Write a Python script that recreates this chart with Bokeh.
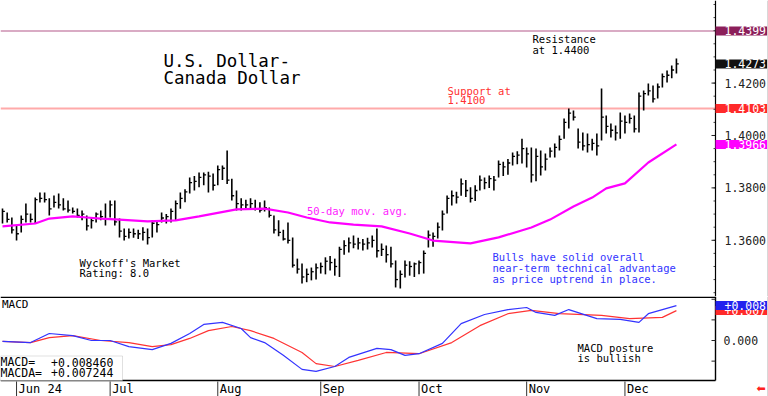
from bokeh.plotting import figure
from bokeh.models import Range1d, Label, Span, BoxAnnotation, ColumnDataSource
from bokeh.layouts import column
from bokeh.embed import file_html
from bokeh.resources import INLINE

# ---------------- data ----------------
highs = [1.3721, 1.3706, 1.3687, 1.3656, 1.3695, 1.3740, 1.3702, 1.3763, 1.3782, 1.3782,
         1.3760, 1.3771, 1.3779, 1.3760, 1.3752, 1.3725, 1.3721, 1.3714, 1.3695, 1.3687,
         1.3706, 1.3714, 1.3740, 1.3752, 1.3752, 1.3683, 1.3645, 1.3645, 1.3645, 1.3640,
         1.3650, 1.3645, 1.3676, 1.3676, 1.3706, 1.3700, 1.3721, 1.3752, 1.3782, 1.3795,
         1.3840, 1.3845, 1.3859, 1.3859, 1.3862, 1.3855, 1.3885, 1.3885, 1.3943, 1.3835,
         1.3790, 1.3760, 1.3755, 1.3760, 1.3755, 1.3745, 1.3752, 1.3725, 1.3695, 1.3676,
         1.3640, 1.3668, 1.3611, 1.3530, 1.3511, 1.3492, 1.3496, 1.3511, 1.3515, 1.3535,
         1.3540, 1.3530, 1.3575, 1.3600, 1.3611, 1.3618, 1.3610, 1.3605, 1.3610, 1.3618,
         1.3645, 1.3588, 1.3580, 1.3575, 1.3523, 1.3485, 1.3523, 1.3520, 1.3515, 1.3523,
         1.3561, 1.3637, 1.3630, 1.3668, 1.3714, 1.3771, 1.3790, 1.3785, 1.3836, 1.3830,
         1.3802, 1.3810, 1.3847, 1.3840, 1.3847, 1.3845, 1.3905, 1.3900, 1.3910, 1.3935,
         1.3940, 1.3988, 1.3954, 1.3954, 1.3950, 1.3943, 1.3931, 1.3954, 1.3969, 1.4000,
         1.4065, 1.4103, 1.4095, 1.4027, 1.4011, 1.4008, 1.3988, 1.4008, 1.4179, 1.4076,
         1.4046, 1.4038, 1.4088, 1.4076, 1.4084, 1.4076, 1.4164, 1.4172, 1.4198, 1.4191,
         1.4198, 1.4237, 1.4248, 1.4267, 1.4294]
lows = [1.3664, 1.3668, 1.3626, 1.3599, 1.3630, 1.3668, 1.3668, 1.3664, 1.3744, 1.3744,
        1.3695, 1.3725, 1.3721, 1.3714, 1.3706, 1.3702, 1.3687, 1.3676, 1.3637, 1.3645,
        1.3668, 1.3676, 1.3656, 1.3687, 1.3656, 1.3611, 1.3599, 1.3607, 1.3610, 1.3605,
        1.3599, 1.3584, 1.3611, 1.3630, 1.3668, 1.3664, 1.3668, 1.3676, 1.3720, 1.3745,
        1.3779, 1.3790, 1.3802, 1.3810, 1.3782, 1.3790, 1.3810, 1.3830, 1.3815, 1.3752,
        1.3714, 1.3714, 1.3720, 1.3718, 1.3714, 1.3706, 1.3710, 1.3687, 1.3626, 1.3615,
        1.3599, 1.3588, 1.3496, 1.3473, 1.3435, 1.3440, 1.3447, 1.3450, 1.3473, 1.3470,
        1.3485, 1.3465, 1.3460, 1.3545, 1.3553, 1.3570, 1.3565, 1.3561, 1.3565, 1.3572,
        1.3534, 1.3540, 1.3515, 1.3496, 1.3420, 1.3416, 1.3458, 1.3465, 1.3460, 1.3470,
        1.3473, 1.3572, 1.3575, 1.3607, 1.3637, 1.3702, 1.3733, 1.3740, 1.3770, 1.3765,
        1.3744, 1.3750, 1.3790, 1.3795, 1.3800, 1.3790, 1.3840, 1.3845, 1.3850, 1.3885,
        1.3890, 1.3893, 1.3878, 1.3821, 1.3825, 1.3847, 1.3866, 1.3916, 1.3916, 1.3943,
        1.3988, 1.4027, 1.4057, 1.3950, 1.3943, 1.3935, 1.3943, 1.3924, 1.3981, 1.4008,
        1.3992, 1.3981, 1.3988, 1.4008, 1.4046, 1.4011, 1.4011, 1.4095, 1.4153, 1.4126,
        1.4141, 1.4183, 1.4202, 1.4218, 1.4237]
closes = [1.3710, 1.3680, 1.3640, 1.3625, 1.3680, 1.3700, 1.3680, 1.3755, 1.3760, 1.3755,
          1.3720, 1.3745, 1.3735, 1.3720, 1.3715, 1.3710, 1.3695, 1.3700, 1.3655, 1.3675,
          1.3700, 1.3690, 1.3680, 1.3735, 1.3670, 1.3635, 1.3615, 1.3630, 1.3625, 1.3625,
          1.3630, 1.3610, 1.3665, 1.3660, 1.3685, 1.3690, 1.3710, 1.3740, 1.3760, 1.3785,
          1.3820, 1.3825, 1.3840, 1.3850, 1.3845, 1.3810, 1.3870, 1.3875, 1.3830, 1.3770,
          1.3740, 1.3735, 1.3735, 1.3740, 1.3720, 1.3715, 1.3725, 1.3695, 1.3640, 1.3630,
          1.3605, 1.3600, 1.3505, 1.3490, 1.3460, 1.3470, 1.3480, 1.3495, 1.3500, 1.3520,
          1.3515, 1.3500, 1.3565, 1.3580, 1.3590, 1.3585, 1.3590, 1.3585, 1.3590, 1.3600,
          1.3560, 1.3565, 1.3545, 1.3510, 1.3450, 1.3470, 1.3505, 1.3500, 1.3510, 1.3515,
          1.3550, 1.3620, 1.3615, 1.3650, 1.3700, 1.3760, 1.3770, 1.3765, 1.3815, 1.3790,
          1.3760, 1.3790, 1.3830, 1.3820, 1.3835, 1.3830, 1.3890, 1.3880, 1.3895, 1.3920,
          1.3925, 1.3950, 1.3930, 1.3850, 1.3920, 1.3880, 1.3910, 1.3940, 1.3955, 1.3985,
          1.4050, 1.4085, 1.4070, 1.3975, 1.3960, 1.3965, 1.3970, 1.3960, 1.4070, 1.4035,
          1.4020, 1.4010, 1.4055, 1.4050, 1.4065, 1.4025, 1.4150, 1.4160, 1.4170, 1.4140,
          1.4185, 1.4225, 1.4230, 1.4250, 1.4273]

ma_day = [0, 7, 10, 15, 18, 21, 25, 31, 37, 42, 50, 56, 61, 65, 70, 75, 81, 87, 92, 100,
          106, 113, 117, 122, 126, 129, 133, 138, 144]
ma_val = [1.3653, 1.3664, 1.3683, 1.3691, 1.3687, 1.3683, 1.3679, 1.3672, 1.3676, 1.3691,
          1.3718, 1.3721, 1.3706, 1.3687, 1.3668, 1.3660, 1.3653, 1.3626, 1.3599, 1.3588,
          1.3611, 1.3649, 1.3679, 1.3729, 1.3763, 1.3798, 1.3817, 1.3897, 1.3966]

macd_day = [0, 6, 10, 15, 19, 23, 27, 32, 36, 40, 43, 47, 51, 53, 56, 60, 64, 67, 71, 74,
            80, 83, 86, 89, 94, 98, 103, 108, 112, 114, 118, 121, 127, 132, 136, 138, 144]
macd_val = [-0.0002, -0.0005, 0.0017, 0.0012, 0.0000, 0.0000, -0.0015, -0.0022, -0.0007,
            0.0017, 0.0039, 0.0044, 0.0029, 0.0007, -0.0005, -0.0036, -0.0070, -0.0075,
            -0.0063, -0.0041, -0.0019, -0.0022, -0.0036, -0.0032, -0.0007, 0.0041, 0.0063,
            0.0075, 0.0080, 0.0068, 0.0061, 0.0075, 0.0053, 0.0051, 0.0044, 0.0065, 0.008460]
sig_day = [0, 6, 10, 15, 21, 27, 32, 36, 40, 44, 49, 53, 58, 64, 67, 71, 76, 82, 89, 96,
           102, 108, 113, 119, 128, 134, 141, 144]
sig_val = [-0.0002, -0.0005, 0.0007, 0.0012, 0.0000, -0.0005, -0.0015, -0.0010, 0.0005,
           0.0024, 0.0034, 0.0024, 0.0005, -0.0029, -0.0056, -0.0063, -0.0048, -0.0029,
           -0.0032, -0.0005, 0.0036, 0.0065, 0.0073, 0.0065, 0.0061, 0.0053, 0.0056, 0.007244]

month_day = [3, 23, 46, 68, 89, 112, 133]
month_lbl = ["Jun 24", "Jul", "Aug", "Sep", "Oct", "Nov", "Dec"]
price_ticks = [1.36, 1.38, 1.40, 1.42]
price_minor = [round(1.340 + 0.005 * i, 3) for i in range(23)]
macd_ticks = [-0.005, 0.0, 0.005, 0.010]
macd_labeled = [0.0]
resistance = 1.4399
support = 1.4103

# ---------------- layout helpers (reference pixel -> data) ----------------
FONT = "DejaVu Sans Mono"
def X(px): return (px - 2.0) / 4.68
def Y(py): return 1.4103 + (108.0 - py) / 2620.0
def M(py): return (340.0 - py) / 4125.0

W = 768
xr = Range1d(X(0), X(768))

def make_fig(h, yr):
    f = figure(width=W, height=h, x_range=xr, y_range=yr,
               x_axis_type=None, y_axis_type=None, output_backend="svg",
               toolbar_location=None, min_border_left=0, min_border_right=0,
               min_border_top=0, min_border_bottom=0)
    f.outline_line_color = None
    f.background_fill_color = "white"
    f.border_fill_color = "white"
    return f

def txt(fig, conv, xpx, ypx, s, size, color="black", **kw):
    # ypx is the text baseline in reference pixels
    fig.add_layout(Label(x=X(xpx), y=conv(ypx - 0.35 * size), text=s, text_font=FONT,
                         text_font_size="%.1fpx" % size, text_color=color,
                         text_align="left", text_baseline="alphabetic", **kw))

def mid(fig, xv, yv, s, size, color="#222222"):
    fig.add_layout(Label(x=xv, y=yv, text=s, text_font=FONT, text_font_size="%.1fpx" % size,
                         text_color=color, text_align="left", text_baseline="middle"))

def box(fig, y, s, bg):
    fig.add_layout(Label(x=X(715), y=y, text=s, text_font=FONT, text_font_size="11.5px",
                         text_color="white", text_align="left", text_baseline="middle",
                         background_fill_color=bg,
                         padding=dict(left=9, right=1, top=0, bottom=0)))

# ---------------- price panel ----------------
p1 = make_fig(296, Range1d(Y(296), Y(0)))

p1.segment(x0=[X(0)], x1=[X(715)], y0=[resistance], y1=[resistance],
           line_color="#CC8FB0", line_width=1.5)
p1.segment(x0=[X(0)], x1=[X(715)], y0=[support], y1=[support],
           line_color="#FFAAAA", line_width=1.8)

src = ColumnDataSource(dict(day=list(range(len(highs))), high=highs, low=lows, close=closes,
                            day_r=[d + 0.5 for d in range(len(highs))]))
p1.segment(x0="day", y0="low", x1="day", y1="high", source=src, line_color="black", line_width=1.6)
p1.segment(x0="day", y0="close", x1="day_r", y1="close", source=src, line_color="black", line_width=1.3)
p1.line(ma_day, ma_val, line_color="#FF00FF", line_width=2.2)

# right price scale
p1.add_layout(Span(location=X(715), dimension="height", line_color="black", line_width=1.2))
p1.add_layout(Span(location=X(767), dimension="height", line_color="#D8D8D8", line_width=1))
p1.segment(x0=[X(713)] * len(price_minor), x1=[X(715)] * len(price_minor),
           y0=price_minor, y1=price_minor, line_color="#444444", line_width=1)
p1.segment(x0=[X(711)] * len(price_ticks), x1=[X(715)] * len(price_ticks),
           y0=price_ticks, y1=price_ticks, line_color="#222222", line_width=1)
for t in price_ticks:
    mid(p1, X(724), t, "%.4f" % t, 11.5)

txt(p1, Y, 163, 66.5, "U.S. Dollar-", 17.5)
txt(p1, Y, 163, 84, "Canada Dollar", 17.5)
txt(p1, Y, 532, 42.5, "Resistance", 10.5)
txt(p1, Y, 532, 52.7, "at 1.4400", 10.5)
txt(p1, Y, 447, 94, "Support at", 10.5, "#FF3030")
txt(p1, Y, 447, 103.5, "1.4100", 10.5, "#FF3030")
txt(p1, Y, 306.5, 214.3, "50-day mov. avg.", 10.5, "#FF22FF")
txt(p1, Y, 79, 266, "Wyckoff's Market", 10.5)
txt(p1, Y, 79, 276.3, "Rating: 8.0", 10.5)
txt(p1, Y, 492, 260.5, "Bulls have solid overall", 10.5, "#3333FF")
txt(p1, Y, 492, 271.3, "near-term technical advantage", 10.5, "#3333FF")
txt(p1, Y, 492, 281.7, "as price uptrend in place.", 10.5, "#3333FF")

box(p1, resistance, "%.4f" % resistance, "#8C1F5A")
box(p1, closes[-1], "%.4f" % closes[-1], "#111111")
box(p1, support, "%.4f" % support, "#FF2A2A")
box(p1, ma_val[-1], "%.4f" % ma_val[-1], "#FF00FF")

# ---------------- MACD panel ----------------
p2 = make_fig(100, Range1d(M(396), M(296)))

p2.line(sig_day, sig_val, line_color="#FF3333", line_width=1.2)
p2.line(macd_day, macd_val, line_color="#3333FF", line_width=1.2)

# frame lines: separator on top, x-axis at bottom, price scale on right
p2.segment(x0=[X(0), X(0), X(715)], x1=[X(715), X(715), X(715)],
           y0=[M(296.8), M(380), M(296)], y1=[M(296.8), M(380), M(380)],
           line_color="black", line_width=1.4)
p2.segment(x0=[X(767)], x1=[X(767)], y0=[M(296)], y1=[M(396)], line_color="#D8D8D8", line_width=1)
p2.segment(x0=[X(711)] * len(macd_ticks), x1=[X(715)] * len(macd_ticks),
           y0=macd_ticks, y1=macd_ticks, line_color="#222222", line_width=1)
for t in macd_labeled:
    mid(p2, X(723), t, "%.3f" % t, 11.5)

# month ticks and labels
p2.segment(x0=month_day, x1=month_day, y0=[M(381)] * len(month_day), y1=[M(396)] * len(month_day),
           line_color="#333333", line_width=1)
for d, lbl in zip(month_day, month_lbl):
    p2.add_layout(Label(x=d, y=M(392.5 - 0.35 * 12), text=lbl, text_font=FONT,
                        text_font_size="12px", text_color="black", text_align="left",
                        text_baseline="alphabetic", x_offset=2))

p2.add_layout(BoxAnnotation(left=X(0), right=X(122), top=M(355.5), bottom=M(380),
                            fill_color="white", fill_alpha=1.0,
                            line_color="#999999", line_width=1))
txt(p2, M, 1.5, 308.3, "MACD", 11)
txt(p2, M, 577, 350.7, "MACD posture", 10.5)
txt(p2, M, 577, 360.7, "is bullish", 10.5)
txt(p2, M, 0, 366, "MACD=", 11.5)
txt(p2, M, 50.5, 366, "+%.6f" % macd_val[-1], 11.5)
txt(p2, M, 0, 376.5, "MACDA=", 11.5)
txt(p2, M, 50.5, 376.5, "+%.6f" % sig_val[-1], 11.5)

box(p2, sig_val[-1], "+%.3f" % sig_val[-1], "#FF2A2A")
box(p2, macd_val[-1], "+%.3f" % macd_val[-1], "#2222EE")

p2.add_layout(Label(x=X(756), y=M(391.5 - 4), text="\u2b05", text_font="DejaVu Sans",
                    text_font_size="11px", text_color="#FF2020", text_align="left",
                    text_baseline="alphabetic"))

layout = column(p1, p2)
open("out.html", "w").write(file_html(layout, INLINE))
